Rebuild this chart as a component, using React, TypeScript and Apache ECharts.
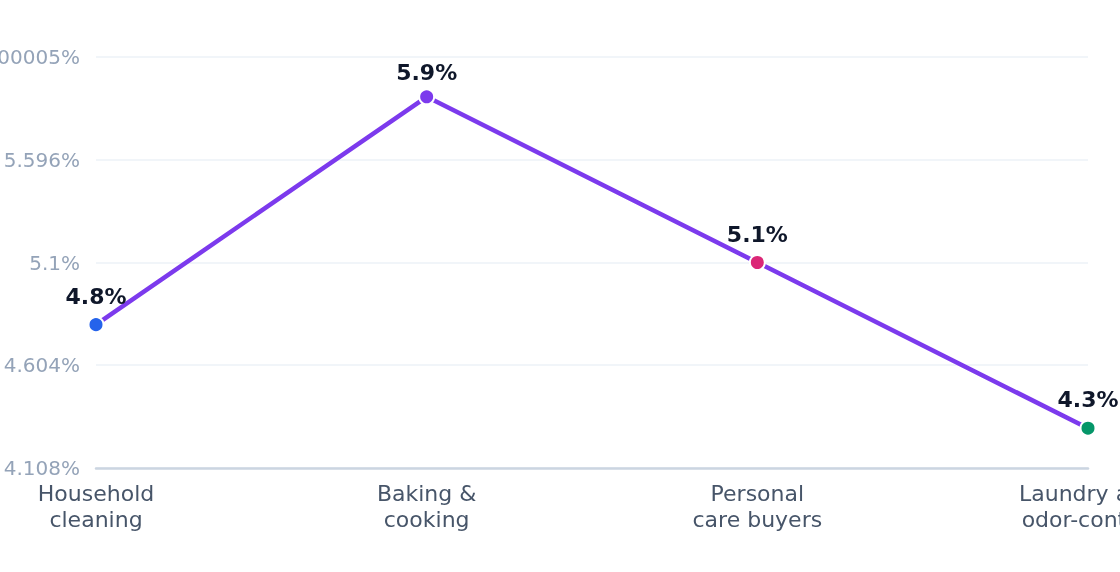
import { useEffect, useRef } from "react";
import * as echarts from "echarts";

const categories = [
  "Household\ncleaning",
  "Baking &\ncooking",
  "Personal\ncare buyers",
  "Laundry and\nodor-control",
];
const shareValues = [4.8, 5.9, 5.1, 4.3];
const pointColors = ["#2563eb", "#7c3aed", "#db2777", "#059669"];
const yTickLabels = ["4.108%", "4.604%", "5.1%", "5.596%", "6.092000000000005%"];
const yMin = 4.108;
const yMax = 6.092;
const yInterval = 0.496;

export default function App() {
  const chartRef = useRef<HTMLDivElement>(null);

  useEffect(() => {
    if (!chartRef.current) return;
    const chart = echarts.init(chartRef.current, null, { renderer: "svg" });

    // the peak label sits a bit closer to its point than the others
    const peak = shareValues.indexOf(Math.max(...shareValues));

    chart.setOption({
      animation: false,
      textStyle: { fontFamily: "DejaVu Sans, sans-serif" },
      grid: {
        left: 96,
        right: 32,
        top: 57,
        bottom: 104,
        containLabel: false,
        outerBoundsMode: "none",
      },
      xAxis: {
        type: "category",
        data: categories,
        boundaryGap: false,
        axisTick: { show: false },
        axisLine: { lineStyle: { color: "#cbd5e1", width: 2.5 } },
        axisLabel: {
          color: "#475569",
          fontSize: 22,
          lineHeight: 26,
          margin: 12,
          interval: 0,
        },
      },
      yAxis: {
        type: "value",
        min: yMin,
        max: yMax,
        interval: yInterval,
        axisLine: { show: false },
        axisTick: { show: false },
        splitLine: { lineStyle: { color: "#f1f5f9", width: 2 } },
        axisLabel: {
          color: "#94a3b8",
          fontSize: 20,
          margin: 16,
          formatter: (_v: number, i: number) => yTickLabels[i] ?? "",
        },
      },
      series: [
        {
          type: "line",
          data: shareValues.map((v, i) => ({
            value: v,
            itemStyle: { color: pointColors[i] },
            label: i === peak ? { distance: 5 } : undefined,
          })),
          symbol: "circle",
          symbolSize: 15,
          lineStyle: { color: "#7c3aed", width: 4.5 },
          itemStyle: { borderColor: "#ffffff", borderWidth: 2 },
          label: {
            show: true,
            position: "top",
            distance: 9,
            color: "#0f172a",
            fontSize: 22,
            fontWeight: "bold",
            formatter: (p: any) => `${p.value}%`,
          },
        },
      ],
    });

    return () => {
      chart.dispose();
    };
  }, []);

  return (
    <div
      ref={chartRef}
      style={{ position: "fixed", left: 0, top: 0, width: 1120, height: 572 }}
    />
  );
}
